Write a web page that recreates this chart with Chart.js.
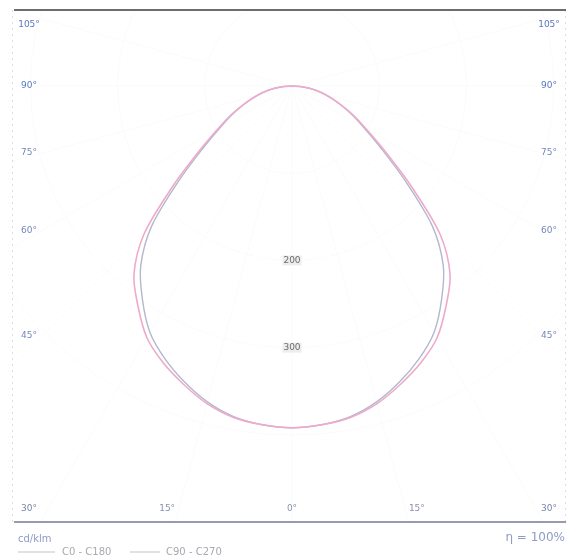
<!DOCTYPE html>
<html>
<head>
<meta charset="utf-8">
<script src="https://cdn.jsdelivr.net/npm/chart.js@4/dist/chart.umd.min.js"></script>
<style>
  html, body { margin: 0; padding: 0; background: #ffffff; }
  #wrap { width: 576px; height: 560px; }
</style>
</head>
<body>
<div id="wrap"><canvas id="c" width="576" height="560"></canvas></div>
<script>
// ---- data (cd/klm versus gamma angle, 0° = straight down) ----
const gammaAngles = [0, 5, 10, 15, 20, 25, 30, 35, 40, 45, 50, 55, 60, 65, 70, 75, 80, 85, 90];
const c0c180  = [392, 390, 386, 377, 364, 350, 333, 308, 282, 240, 178, 130, 98, 76, 57, 41, 27, 13, 0];
const c90c270 = [392, 390, 385, 375, 361, 345, 326, 299, 270, 228, 170, 125, 95, 74, 56, 41, 27, 13, 0];
const seriesNames = ['C0 - C180', 'C90 - C270'];
const sideAngleLabels = [105, 90, 75, 60, 45];
const cornerAngleLabel = 30;
const bottomAngleLabels = [15, 0, 15];
const bottomAngleValues = [-15, 0, 15];
const ringValues = [100, 200, 300, 400];
const ringLabelValues = [200, 300];
const unitText = 'cd/klm';
const effText = 'η = 100%';

function polarPoints(values) {
  const pts = [];
  for (let i = gammaAngles.length - 1; i >= 0; i--) {
    const a = gammaAngles[i] * Math.PI / 180;
    pts.push({ x: -values[i] * Math.sin(a), y: -values[i] * Math.cos(a) });
  }
  for (let i = 1; i < gammaAngles.length; i++) {
    const a = gammaAngles[i] * Math.PI / 180;
    pts.push({ x: values[i] * Math.sin(a), y: -values[i] * Math.cos(a) });
  }
  return pts;
}

const colors = ['#eeaacb', '#b4b8cc'];

const polarPlugin = {
  id: 'polarDecor',
  beforeDatasetsDraw(chart) {
    const { ctx, chartArea: ca, scales: { x, y } } = chart;
    const px = x.getPixelForValue(0), py = y.getPixelForValue(0);
    const k = x.getPixelForValue(100) - px;
    ctx.save();
    ctx.beginPath();
    ctx.rect(ca.left, ca.top, ca.right - ca.left, ca.bottom - ca.top);
    ctx.clip();
    ctx.strokeStyle = 'rgba(0,0,0,0.02)';
    ctx.lineWidth = 1;
    ringValues.forEach(r => {
      ctx.beginPath();
      ctx.arc(px, py, r * k / 100, 0, Math.PI * 2);
      ctx.stroke();
    });
    for (let g = -105; g <= 105; g += 15) {
      const a = g * Math.PI / 180;
      ctx.beginPath();
      ctx.moveTo(px, py);
      ctx.lineTo(px + 1000 * Math.sin(a), py + 1000 * Math.cos(a));
      ctx.stroke();
    }
    ctx.restore();
  },
  afterDraw(chart) {
    const { ctx, chartArea: ca, scales: { x, y } } = chart;
    const px = x.getPixelForValue(0), py = y.getPixelForValue(0);
    ctx.save();
    // frame
    ctx.strokeStyle = 'rgba(120,120,120,0.25)';
    ctx.lineWidth = 1;
    ctx.setLineDash([2, 4]);
    ctx.beginPath();
    ctx.moveTo(ca.left + 0.5, ca.top); ctx.lineTo(ca.left + 0.5, ca.bottom);
    ctx.moveTo(ca.right - 0.5, ca.top); ctx.lineTo(ca.right - 0.5, ca.bottom);
    ctx.stroke();
    ctx.setLineDash([]);
    ctx.strokeStyle = '#3c3c3c';
    ctx.lineWidth = 1.6;
    ctx.beginPath();
    ctx.moveTo(ca.left + 2, ca.top); ctx.lineTo(ca.right, ca.top);
    ctx.stroke();
    ctx.strokeStyle = '#747a96';
    ctx.lineWidth = 1.6;
    ctx.beginPath();
    ctx.moveTo(ca.left + 2, ca.bottom); ctx.lineTo(ca.right, ca.bottom);
    ctx.stroke();

    // angle labels on the sides
    ctx.font = '9px "DejaVu Sans"';
    ctx.textBaseline = 'middle';
    ctx.textAlign = 'center';
    const dSide = 250;
    sideAngleLabels.forEach(g => {
      const a = g * Math.PI / 180;
      let ly = py + dSide * Math.cos(a) / Math.sin(a);
      ly = Math.max(ly, ca.top + 15);
      ctx.fillStyle = g >= 90 ? '#5a78c0' : '#7588b8';
      ctx.fillText(g + '°', ca.left + 17, ly);
      ctx.fillText(g + '°', ca.right - 17, ly);
    });
    const bottomY = ca.bottom - 13;
    ctx.fillStyle = '#7a86aa';
    ctx.fillText(cornerAngleLabel + '°', ca.left + 17, bottomY);
    ctx.fillText(cornerAngleLabel + '°', ca.right - 17, bottomY);
    const dBottom = 466;
    bottomAngleValues.forEach((g, i) => {
      const a = g * Math.PI / 180;
      ctx.fillStyle = '#8a93b0';
      ctx.fillText(bottomAngleLabels[i] + '°', px + dBottom * Math.tan(a), bottomY);
    });

    // ring labels
    ctx.font = '9px "DejaVu Sans"';
    ringLabelValues.forEach(r => {
      const ly = y.getPixelForValue(-r);
      const w = ctx.measureText(String(r)).width;
      ctx.fillStyle = 'rgba(235,235,235,0.9)';
      ctx.fillRect(px - w / 2 - 1, ly - 5, w + 2, 10);
      ctx.fillStyle = '#6c6c6c';
      ctx.fillText(String(r), px, ly);
    });

    // footer
    ctx.textAlign = 'left';
    ctx.font = '10px "DejaVu Sans"';
    ctx.fillStyle = '#8e9cc4';
    ctx.fillText(unitText, 18, 539);
    ctx.textAlign = 'right';
    ctx.font = '12px "DejaVu Sans"';
    ctx.fillStyle = '#8e9cc4';
    ctx.fillText(effText, 565, 538);

    // legend
    ctx.textAlign = 'left';
    ctx.font = '10px "DejaVu Sans"';
    const legendY = 552;
    const items = [{ x0: 18, x1: 55, tx: 62 }, { x0: 130, x1: 160, tx: 166 }];
    chart.data.datasets.forEach((ds, i) => {
      const it = items[i];
      ctx.strokeStyle = '#c4c4c4';
      ctx.lineWidth = 1;
      ctx.beginPath();
      ctx.moveTo(it.x0, legendY); ctx.lineTo(it.x1, legendY);
      ctx.stroke();
      ctx.fillStyle = '#a8a8b0';
      ctx.fillText(ds.label, it.tx, legendY);
    });
    ctx.restore();
  }
};

new Chart(document.getElementById('c'), {
  type: 'scatter',
  data: {
    datasets: [
      { label: seriesNames[0], data: polarPoints(c0c180), showLine: true, borderColor: colors[0],
        borderWidth: 1.6, pointRadius: 0, tension: 0.3, fill: false },
      { label: seriesNames[1], data: polarPoints(c90c270), showLine: true, borderColor: colors[1],
        borderWidth: 1.4, pointRadius: 0, tension: 0.3, fill: false }
    ]
  },
  options: {
    responsive: false,
    animation: false,
    layout: { padding: { left: 12, right: 10, top: 10, bottom: 38 } },
    scales: {
      x: { type: 'linear', min: -321.1, max: 314.2, display: false },
      y: { type: 'linear', min: -500, max: 87.2, display: false }
    },
    plugins: { legend: { display: false }, tooltip: { enabled: false } }
  },
  plugins: [polarPlugin]
});
</script>
</body>
</html>
